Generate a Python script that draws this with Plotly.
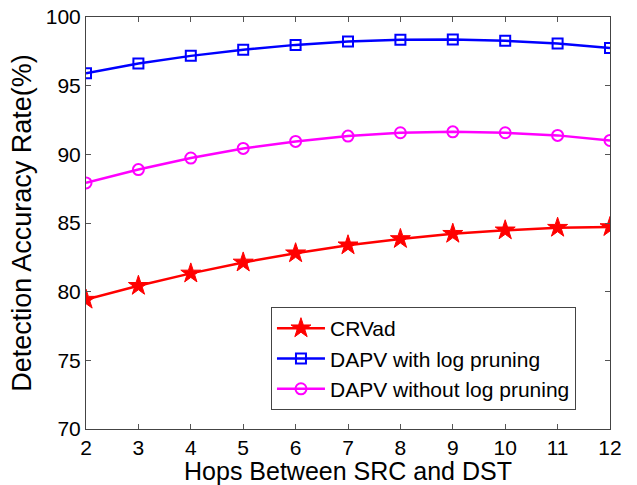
import plotly.graph_objects as go

hops = [2, 3, 4, 5, 6, 7, 8, 9, 10, 11, 12]
crvad = [79.42, 80.43, 81.33, 82.13, 82.80, 83.38, 83.84, 84.22, 84.47, 84.66, 84.71]
dapv_with = [95.90, 96.62, 97.17, 97.62, 97.97, 98.22, 98.34, 98.36, 98.27, 98.07, 97.74]
dapv_without = [87.92, 88.89, 89.73, 90.43, 90.94, 91.33, 91.57, 91.64, 91.57, 91.38, 91.01]

x_ticks = [2, 3, 4, 5, 6, 7, 8, 9, 10, 11, 12]
y_ticks = [70, 75, 80, 85, 90, 95, 100]

FONT = "Liberation Sans, Arial, sans-serif"

fig = go.Figure()
fig.add_trace(go.Scatter(x=hops, y=crvad, mode="lines+markers", name="CRVad",
                         line=dict(color="#FF0000", width=2.5),
                         marker=dict(symbol="star", size=15, color="#FF0000",
                                     line=dict(color="#FF0000", width=1))))
fig.add_trace(go.Scatter(x=hops, y=dapv_with, mode="lines+markers", name="DAPV with log pruning",
                         line=dict(color="#0000FF", width=2.5),
                         marker=dict(symbol="square-open", size=10, color="#0000FF",
                                     line=dict(color="#0000FF", width=2))))
fig.add_trace(go.Scatter(x=hops, y=dapv_without, mode="lines+markers", name="DAPV without log pruning",
                         line=dict(color="#FF00FF", width=2.5),
                         marker=dict(symbol="circle-open", size=11, color="#FF00FF",
                                     line=dict(color="#FF00FF", width=2))))

axis_common = dict(showgrid=False, zeroline=False, showline=True, linecolor="#444444",
                   linewidth=1, mirror="ticks", ticks="inside", ticklen=5,
                   tickcolor="#555555", ticklabeloverflow="allow",
                   tickfont=dict(family=FONT, size=21, color="black"))

fig.update_xaxes(range=[2, 12], tickvals=x_ticks, automargin=False,
                 title=dict(text="Hops Between SRC and DST", standoff=2,
                            font=dict(family=FONT, size=25, color="black")),
                 **axis_common)
fig.update_yaxes(range=[70, 100], tickvals=y_ticks, automargin=False,
                 title=dict(text="Detection Accuracy Rate(%)", standoff=6,
                            font=dict(family=FONT, size=27, color="black")),
                 **axis_common)

fig.update_layout(
    width=637, height=485,
    margin=dict(l=86, r=27, t=17, b=56),
    paper_bgcolor="white", plot_bgcolor="white",
    legend=dict(x=0.353, y=0.296, xanchor="left", yanchor="top",
                bgcolor="white", bordercolor="#444444", borderwidth=1,
                itemwidth=48,
                font=dict(family=FONT, size=21, color="black")),
    showlegend=True,
)

fig.write_html("out.html", config={"displayModeBar": False},
               post_script="document.body.style.margin='0';document.body.style.overflow='hidden';")
